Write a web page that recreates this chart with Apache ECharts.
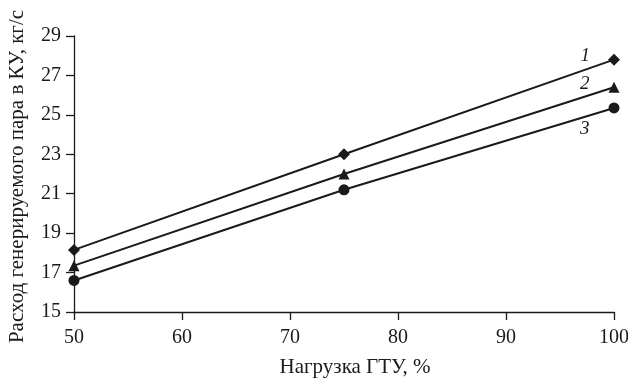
<!DOCTYPE html>
<html>
<head>
<meta charset="utf-8">
<script src="https://cdn.jsdelivr.net/npm/echarts@6/dist/echarts.min.js"></script>
<style>
  html, body { margin: 0; padding: 0; background: #fff; }
  #chart { width: 628px; height: 381px; }
</style>
</head>
<body>
<div id="chart"></div>
<script>
// Gas-turbine load, %
const loads = [50, 75, 100];
// Steam generated in the heat-recovery boiler, kg/s
const curve1 = [18.15, 23.0, 27.8];
const curve2 = [17.35, 22.0, 26.4];
const curve3 = [16.6, 21.2, 25.35];
const curveNames = ['1', '2', '3'];
const yTicks = [15, 17, 19, 21, 23, 25, 27, 29];

const FONT = 'Liberation Serif';
const INK = '#1a1a1a';

function makeSeries(values, name, symbol, size, labelOffset) {
  return {
    type: 'line',
    name: name,
    data: loads.map((x, i) => {
      const item = { value: [x, values[i]] };
      if (i === loads.length - 1) {
        item.label = {
          show: true,
          formatter: name,
          position: 'left',
          offset: labelOffset,
          fontFamily: FONT,
          fontStyle: 'italic',
          fontSize: 19,
          color: INK
        };
      }
      return item;
    }),
    symbol: symbol,
    symbolSize: size,
    showAllSymbol: true,
    lineStyle: { color: INK, width: 2 },
    itemStyle: { color: INK },
    emphasis: { disabled: true },
    animation: false,
    z: 3
  };
}

const chart = echarts.init(document.getElementById('chart'), null, { renderer: 'canvas' });
chart.setOption({
  backgroundColor: '#fff',
  animation: false,
  grid: { left: 74, right: 14, top: 36, bottom: 69, containLabel: false, outerBoundsMode: 'none' },
  xAxis: {
    type: 'value',
    min: 50, max: 100, interval: 10,
    name: 'Нагрузка ГТУ, %',
    nameLocation: 'middle',
    nameGap: 45,
    nameTextStyle: { fontFamily: FONT, fontSize: 21, color: INK, padding: [0, 0, 0, 22] },
    axisLine: { lineStyle: { color: INK, width: 1.3 } },
    axisTick: { inside: false, length: 8, lineStyle: { color: INK, width: 1.3 } },
    axisLabel: { fontFamily: FONT, fontSize: 20, color: INK, margin: 16 },
    splitLine: { show: false }
  },
  yAxis: {
    type: 'value',
    min: yTicks[0], max: yTicks[yTicks.length - 1], interval: 2,
    name: 'Расход генерируемого пара в КУ, кг/с',
    nameLocation: 'middle',
    nameGap: 46,
    nameTextStyle: { fontFamily: FONT, fontSize: 21, color: INK, padding: [0, 5, 0, 0] },
    axisLine: { show: true, lineStyle: { color: INK, width: 1.3 } },
    axisTick: { show: true, inside: false, length: 8, lineStyle: { color: INK, width: 1.3 } },
    axisLabel: { fontFamily: FONT, fontSize: 20, color: INK, margin: 13 },
    splitLine: { show: false }
  },
  series: [
    makeSeries(curve1, curveNames[0], 'diamond', 12, [-13, -4]),
    makeSeries(curve2, curveNames[1], 'triangle', 11, [-14, -3]),
    makeSeries(curve3, curveNames[2], 'circle', 11, [-14, 21])
  ]
});
</script>
</body>
</html>
